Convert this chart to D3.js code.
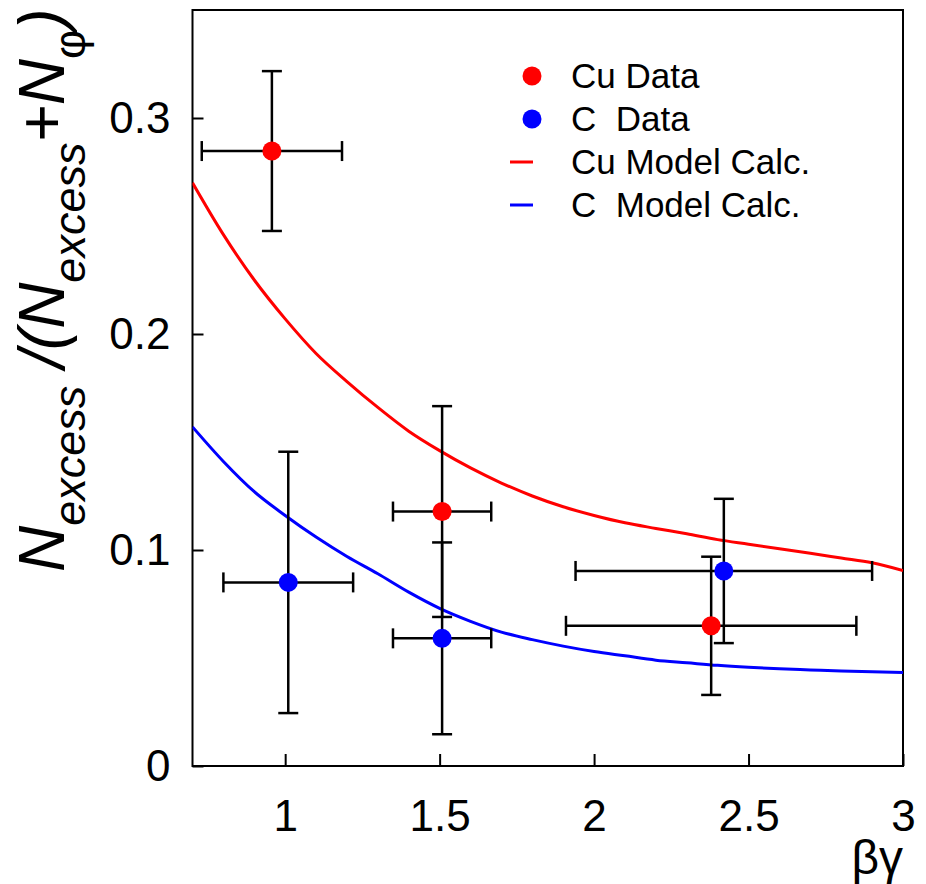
<!DOCTYPE html>
<html>
<head>
<meta charset="utf-8">
<script src="https://cdn.jsdelivr.net/npm/d3@7"></script>
<style>
  html, body { margin: 0; padding: 0; background: #fff; }
  svg { display: block; font-family: "Liberation Sans", Arial, Helvetica, sans-serif; }
  text { white-space: pre; }
</style>
</head>
<body>
<svg id="chart" width="926" height="884"></svg>
<script>
// Measured points: Cu and C targets, phi excess fraction vs beta*gamma
const cuX = [0.957, 1.508, 2.379];
const cuY = [0.2847, 0.1178, 0.0649];
const cuXErr = [0.227, 0.159, 0.47];
const cuYErr = [0.037, 0.0488, 0.032];

const cX = [1.010, 1.508, 2.420];
const cY = [0.0850, 0.0591, 0.0903];
const cXErr = [0.21, 0.159, 0.48];
const cYErr = [0.0605, 0.0444, 0.0334];

// Model calculation curves
const modelX = [0.7, 0.8, 0.9, 1.0, 1.1, 1.2, 1.3, 1.4, 1.5, 1.6, 1.7, 1.8,
                1.9, 2.0, 2.1, 2.2, 2.3, 2.4, 2.5, 2.6, 2.7, 2.8, 2.9, 3.0];
const cuModel = [0.270, 0.246, 0.225, 0.207, 0.191, 0.178, 0.166, 0.155, 0.146, 0.138, 0.131, 0.125,
                 0.120, 0.116, 0.1126, 0.110, 0.1075, 0.1048, 0.1027, 0.1006, 0.0985, 0.0963, 0.0941, 0.0905];
const cModel = [0.157, 0.141, 0.127, 0.116, 0.106, 0.097, 0.089, 0.0805, 0.073, 0.067, 0.062, 0.0585,
                0.0555, 0.053, 0.051, 0.049, 0.0478, 0.0466, 0.0457, 0.045, 0.0445, 0.044, 0.0436, 0.0433];

const xTicks = [1, 1.5, 2, 2.5, 3];
const yTicks = [0, 0.1, 0.2, 0.3];
const legendLabels = ["Cu Data", "C  Data", "Cu Model Calc.", "C  Model Calc."];

const frameL = 192.5, frameR = 903, frameT = 10, frameB = 766;
const svg = d3.select("#chart");
const x = d3.scaleLinear().domain([0.7, 3]).range([frameL, frameR]);
const y = d3.scaleLinear().domain([0, 0.35]).range([frameB, frameT]);

svg.append("defs").append("clipPath").attr("id", "plotclip")
  .append("rect").attr("x", frameL).attr("y", frameT).attr("width", frameR - frameL).attr("height", frameB - frameT);

// Axes with inward ticks
const xAxis = svg.append("g").attr("transform", `translate(0,${frameB})`)
  .call(d3.axisBottom(x).tickValues(xTicks).tickSize(-12).tickPadding(34)
        .tickFormat(d => d3.format("~g")(d)));
const yAxis = svg.append("g").attr("transform", `translate(${frameL},0)`)
  .call(d3.axisLeft(y).tickValues(yTicks).tickSize(-11).tickPadding(22)
        .tickFormat(d => d === 0 ? "0" : d3.format(".1f")(d)));
[xAxis, yAxis].forEach(g => {
  g.select(".domain").remove();
  g.selectAll(".tick line").attr("stroke", "#000").attr("stroke-width", 2);
  g.selectAll(".tick text").attr("fill", "#000").attr("font-size", 44)
    .attr("font-family", "Liberation Sans, Arial, sans-serif");
});

// Frame
svg.append("rect").attr("x", frameL).attr("y", frameT).attr("width", frameR - frameL).attr("height", frameB - frameT)
  .attr("fill", "none").attr("stroke", "#000").attr("stroke-width", 2);

// Model curves
const line = d3.line().x(d => x(d[0])).y(d => y(d[1])).curve(d3.curveMonotoneX);
const curves = svg.append("g").attr("clip-path", "url(#plotclip)");
curves.append("path").datum(d3.zip(modelX, cuModel)).attr("d", line)
  .attr("fill", "none").attr("stroke", "#ff0000").attr("stroke-width", 3);
curves.append("path").datum(d3.zip(modelX, cModel)).attr("d", line)
  .attr("fill", "none").attr("stroke", "#0000ff").attr("stroke-width", 3);

// Data points with error bars
function drawSeries(xs, ys, xe, ye, color) {
  const g = svg.append("g");
  const cap = 10;
  const seg = (a, b, c, d) => g.append("line")
    .attr("x1", a).attr("y1", b).attr("x2", c).attr("y2", d)
    .attr("stroke", "#000").attr("stroke-width", 2.5);
  xs.forEach((xv, i) => {
    const cx = x(xv), cy = y(ys[i]);
    const x0 = x(xv - xe[i]), x1 = x(xv + xe[i]);
    const y0 = y(ys[i] - ye[i]), y1 = y(ys[i] + ye[i]);
    seg(x0, cy, x1, cy);
    seg(cx, y0, cx, y1);
    seg(cx - cap, y0, cx + cap, y0);
    seg(cx - cap, y1, cx + cap, y1);
    seg(x0, cy - cap, x0, cy + cap);
    seg(x1, cy - cap, x1, cy + cap);
  });
  xs.forEach((xv, i) => {
    g.append("circle").attr("cx", x(xv)).attr("cy", y(ys[i])).attr("r", 9.5).attr("fill", color);
  });
}
drawSeries(cuX, cuY, cuXErr, cuYErr, "#ff0000");
drawSeries(cX, cY, cXErr, cYErr, "#0000ff");

// Legend
const legend = svg.append("g");
const legendColors = ["#ff0000", "#0000ff", "#ff0000", "#0000ff"];
legendLabels.forEach((lab, i) => {
  const ry = 76 + i * 43;
  if (i < 2) {
    legend.append("circle").attr("cx", 532).attr("cy", ry).attr("r", 9.5).attr("fill", legendColors[i]);
  } else {
    legend.append("line").attr("x1", 510).attr("x2", 533).attr("y1", ry).attr("y2", ry)
      .attr("stroke", legendColors[i]).attr("stroke-width", 3);
  }
  legend.append("text").attr("x", 571).attr("y", ry + 12).attr("font-size", 35).attr("fill", "#000").text(lab);
});

// Axis titles
svg.append("text").attr("x", 903).attr("y", 874).attr("text-anchor", "end")
  .attr("font-size", 48).attr("fill", "#000").text("βγ");

const yt = svg.append("text").attr("transform", "translate(64,572) rotate(-90)")
  .attr("font-style", "italic").attr("fill", "#000");
yt.append("tspan").attr("font-size", 64).text("N");
yt.append("tspan").attr("font-size", 45).attr("dy", 21).text("excess");
yt.append("tspan").attr("font-size", 64).attr("dy", -21).text(" /(N");
yt.append("tspan").attr("font-size", 45).attr("dy", 21).text("excess");
yt.append("tspan").attr("font-size", 64).attr("dy", -21).text("+N");
yt.append("tspan").attr("font-size", 45).attr("dy", 21).attr("font-style", "normal").text("φ");
yt.append("tspan").attr("font-size", 64).attr("dy", -21).text(")");
</script>
</body>
</html>
